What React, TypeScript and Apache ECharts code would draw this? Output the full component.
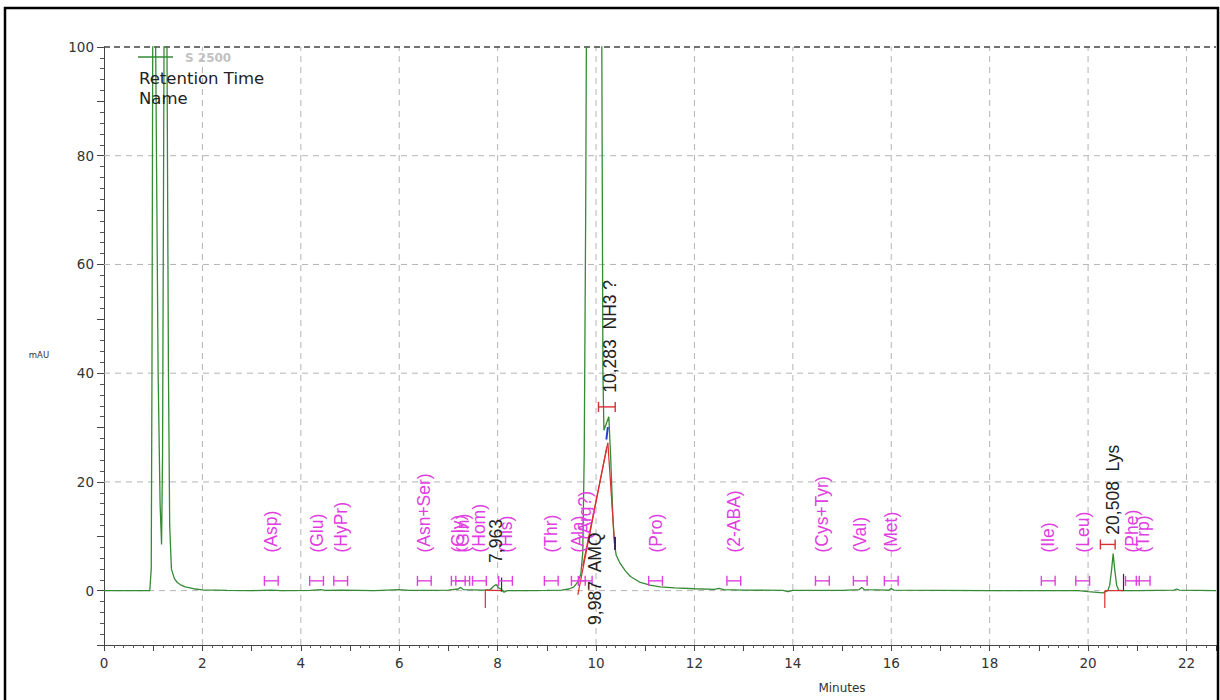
import React, { useEffect, useRef } from 'react';
import * as echarts from 'echarts';

// Chromatogram trace (minutes, mAU)
const traceTime = [
  0, 0.93, 0.96, 0.975, 0.99, 1.02, 1.05, 1.1, 1.14, 1.17, 1.19, 1.22, 1.25, 1.28, 1.31, 1.335, 1.37, 1.43, 1.49, 1.57,
  1.65, 1.82, 2.0, 2.5, 3.0, 3.4, 3.6, 4.2, 4.4, 4.5, 4.85, 5.5, 6.0, 6.2, 6.7, 7.0, 7.2, 7.25, 7.3, 7.7,
  7.85, 7.93, 7.97, 8.02, 8.08, 8.13, 8.2, 8.6, 9.0, 9.3, 9.45, 9.55, 9.63, 9.69, 9.73, 9.76, 9.79, 9.83, 9.9, 9.99,
  10.07, 10.11, 10.14, 10.16, 10.2, 10.26, 10.3, 10.34, 10.37, 10.41, 10.49, 10.6, 10.7, 10.9, 11.1, 11.3, 11.6, 12.0, 12.4, 12.5,
  12.6, 13.0, 13.8, 13.9, 14.0, 15.0, 15.35, 15.4, 15.45, 15.95, 16.0, 16.05, 17.0, 18.0, 19.0, 19.8, 20.0, 20.3, 20.4, 20.44,
  20.48, 20.51, 20.54, 20.58, 20.62, 20.7, 21.0, 21.75, 21.8, 21.85, 22.6,
];
const traceMAU = [
  0, 0, 4, 40, 100, 190, 100, 40, 16, 8.5, 25, 100, 190, 100, 40, 12, 4, 2.2, 1.5, 1.0,
  0.7, 0.35, 0.15, 0.05, 0.0, 0.1, 0.0, 0.05, 0.2, 0.05, 0.1, 0.0, 0.2, 0.05, 0.05, 0.1, 0.3, 0.6, 0.2, 0.1,
  0.2, 0.9, 1.1, 0.5, 0.2, -0.3, 0.0, 0.0, 0.05, 0.1, 0.3, 0.7, 1.6, 3.0, 7, 25, 70, 160, 320, 420,
  300, 120, 40, 29.5, 30.5, 32, 24, 14, 9, 6.5, 5, 3.6, 2.6, 1.5, 1.0, 0.7, 0.5, 0.35, 0.25, 0.4,
  0.2, 0.1, 0.05, -0.2, 0.05, 0.05, 0.2, 0.6, 0.2, 0.1, 0.4, 0.1, 0.05, 0.0, 0.0, 0.0, -0.2, -0.4, 0.0, 1.0,
  4, 6.8, 4, 1.0, 0.1, 0.0, 0.0, 0.1, 0.3, 0.1, 0.0,
];

// Expected components (magenta, rotated) with their window markers
const aaNames = ['(Asp)', '(Glu)', '(HyPr)', '(Asn+Ser)', '(Gly)', '(Gln)', '(Hom)', '(His)', '(Thr)', '(Ala)', '(Arg?)',
  '(Pro)', '(2-ABA)', '(Cys+Tyr)', '(Val)', '(Met)', '(Ile)', '(Leu)', '(Phe)', '(Trp)'];
const aaTimes = [3.40, 4.32, 4.81, 6.51, 7.20, 7.29, 7.63, 8.16, 9.09, 9.64, 9.78,
  11.21, 12.80, 14.60, 15.37, 16.00, 19.19, 19.89, 20.90, 21.12];
const aaLabelBase = [7, 7, 7, 7, 7, 7, 7, 7, 7, 7, 9.4, 7, 7, 7, 7, 7, 7, 7, 7, 7];
const aaMarkY = 1.8;
const aaMarkHalf = 0.14;

// Integrated peaks (black rotated labels)
const peakLabels = ['7,963', '9,987  AMQ', '10,283  NH3 ?', '20,508  Lys'];
const peakTimes = [7.963, 9.987, 10.283, 20.508];
const peakLabelBase = [5.1, -6.3, 36.4, 10.3];

// Red peak-window markers
const redMarkTimes = [10.22, 20.40];
const redMarkY = [33.8, 8.5];
const redMarkHalf = [0.17, 0.15];

// Integration lines [x1, y1, x2, y2]
const redSegments = [
  [7.75, 0.1, 7.75, -3.2],
  [7.75, 0.1, 8.08, 0.0],
  [9.63, -0.8, 10.22, 26.5],
  [9.73, 4.5, 10.24, 27.2],
  [10.24, 27.2, 10.37, 9.5],
  [20.34, 0.0, 20.34, -3.2],
  [20.34, 0.0, 20.72, 0.0],
];
const blackSegments = [
  [8.08, 2.4, 8.08, -0.2],
  [20.72, 3.1, 20.72, 0.0],
];
const blueSegments = [[10.21, 27.8, 10.24, 30.1]];
const purpleSegments = [[10.385, 9.9, 10.385, 7.5]];

// Grid
const gridXValues = [2, 4, 6, 8, 10, 12, 14, 16, 18, 20, 22];
const gridYValues = [0, 20, 40, 60, 80];
const X_MIN = 0;
const X_MAX = 22.6;
const Y_MIN = -10;
const Y_MAX = 100;

const GREEN = '#358a35';
const MAGENTA = '#e03ee0';
const RED = '#d83030';

export default function App() {
  const ref = useRef<HTMLDivElement>(null);

  useEffect(() => {
    const chart = echarts.init(ref.current as HTMLDivElement, null, { renderer: 'svg' });

    const segSeries = (data: number[][], color: string, width: number, z: number, dash?: number[]) => ({
      type: 'custom',
      data,
      z,
      silent: true,
      renderItem: (_p: any, api: any) => {
        const a = api.coord([api.value(0), api.value(1)]);
        const b = api.coord([api.value(2), api.value(3)]);
        return {
          type: 'line',
          shape: { x1: a[0], y1: a[1], x2: b[0], y2: b[1] },
          style: { stroke: color, lineWidth: width, lineDash: dash || null },
        };
      },
    });

    const markSeries = (data: number[][], color: string, z: number) => ({
      type: 'custom',
      data,
      z,
      silent: true,
      renderItem: (_p: any, api: any) => {
        const t = api.value(0);
        const y = api.value(1);
        const hw = api.value(2);
        const a = api.coord([t - hw, y]);
        const b = api.coord([t + hw, y]);
        const h = 5;
        const st = { stroke: color, lineWidth: 1.4 };
        return {
          type: 'group',
          children: [
            { type: 'line', shape: { x1: a[0], y1: a[1], x2: b[0], y2: b[1] }, style: st },
            { type: 'line', shape: { x1: a[0], y1: a[1] - h, x2: a[0], y2: a[1] + h }, style: st },
            { type: 'line', shape: { x1: b[0], y1: b[1] - h, x2: b[0], y2: b[1] + h }, style: st },
          ],
        };
      },
    });

    const textSeries = (names: string[], times: number[], bases: number[], color: string, z: number) => ({
      type: 'custom',
      data: times.map((t, i) => [t, bases[i]]),
      z,
      silent: true,
      renderItem: (params: any, api: any) => {
        const p = api.coord([api.value(0), api.value(1)]);
        return {
          type: 'text',
          x: p[0],
          y: p[1],
          rotation: Math.PI / 2,
          style: {
            text: names[params.dataIndex],
            fill: color,
            fontSize: 17.5,
            fontFamily: 'Liberation Sans',
            align: 'left',
            verticalAlign: 'middle',
          },
        };
      },
    });

    const option: any = {
      animation: false,
      backgroundColor: '#ffffff',
      grid: { left: 104, top: 47, width: 1112, height: 598, outerBoundsMode: 'none' },
      xAxis: {
        type: 'value',
        min: X_MIN,
        max: X_MAX,
        interval: 1,
        axisLine: { show: true, onZero: false, lineStyle: { color: '#444', width: 1 } },
        axisTick: { show: true, length: 6, lineStyle: { color: '#444' } },
        minorTick: { show: true, splitNumber: 5, length: 3, lineStyle: { color: '#555' } },
        axisLabel: {
          margin: 11,
          color: '#333',
          fontSize: 13.5,
          fontFamily: 'DejaVu Sans',
          formatter: (v: number) => (Math.abs(v % 2) < 1e-9 ? String(v) : ''),
        },
        splitLine: { show: false },
        minorSplitLine: { show: false },
      },
      yAxis: {
        type: 'value',
        min: Y_MIN,
        max: Y_MAX,
        interval: 10,
        axisLine: { show: true, onZero: false, lineStyle: { color: '#444', width: 1 } },
        axisTick: { show: true, length: 7, lineStyle: { color: '#444' } },
        minorTick: { show: true, splitNumber: 5, length: 4, lineStyle: { color: '#555' } },
        axisLabel: {
          margin: 10,
          color: '#333',
          fontSize: 13.5,
          fontFamily: 'DejaVu Sans',
          formatter: (v: number) => (Math.abs(v % 20) < 1e-9 ? String(v) : ''),
        },
        splitLine: { show: false },
        minorSplitLine: { show: false },
      },
      graphic: [
        { type: 'rect', silent: true, z: 100, shape: { x: 5, y: 8, width: 1213, height: 702 }, style: { fill: 'none', stroke: '#000', lineWidth: 2.5 } },
        { type: 'line', silent: true, z: 50, shape: { x1: 138, y1: 57, x2: 173, y2: 57 }, style: { stroke: GREEN, lineWidth: 1.3 } },
        { type: 'text', silent: true, z: 50, x: 185, y: 58, style: { text: 'S 2500', fill: '#c2c2c2', fontSize: 12, fontWeight: 'bold', fontFamily: 'DejaVu Sans', verticalAlign: 'middle' } },
        { type: 'text', silent: true, z: 50, x: 139, y: 78, style: { text: 'Retention Time', fill: '#222', fontSize: 16.5, fontFamily: 'DejaVu Sans', verticalAlign: 'middle' } },
        { type: 'text', silent: true, z: 50, x: 139, y: 98, style: { text: 'Name', fill: '#222', fontSize: 16.5, fontFamily: 'DejaVu Sans', verticalAlign: 'middle' } },
        { type: 'text', silent: true, z: 50, x: 39, y: 355, style: { text: 'mAU', fill: '#333', fontSize: 8.5, fontFamily: 'DejaVu Sans', align: 'center', verticalAlign: 'middle' } },
        { type: 'text', silent: true, z: 50, x: 842, y: 688, style: { text: 'Minutes', fill: '#333', fontSize: 12, fontFamily: 'DejaVu Sans', align: 'center', verticalAlign: 'middle' } },
      ],
      series: [
        segSeries(gridXValues.map((x) => [x, Y_MIN, x, Y_MAX]), '#b4b4b4', 1, 1, [6, 5]),
        segSeries(gridYValues.map((y) => [X_MIN, y, X_MAX, y]), '#b4b4b4', 1, 1, [6, 5]),
        segSeries([[X_MIN, Y_MAX, X_MAX, Y_MAX]], '#444', 1.3, 1, [6, 4]),
        {
          type: 'line',
          data: traceTime.map((t, i) => [t, traceMAU[i]]),
          showSymbol: false,
          symbol: 'none',
          clip: true,
          silent: true,
          z: 3,
          lineStyle: { color: GREEN, width: 1.3 },
        },
        segSeries(redSegments, RED, 1.2, 4),
        segSeries(blackSegments, '#333', 1.2, 4),
        segSeries(blueSegments, '#2040d0', 2, 5),
        segSeries(purpleSegments, '#402060', 2, 5),
        markSeries(aaTimes.map((t) => [t, aaMarkY, aaMarkHalf]), MAGENTA, 6),
        markSeries(redMarkTimes.map((t, i) => [t, redMarkY[i], redMarkHalf[i]]), RED, 6),
        textSeries(aaNames, aaTimes, aaLabelBase, MAGENTA, 7),
        textSeries(peakLabels, peakTimes, peakLabelBase, '#222', 8),
      ],
    };

    chart.setOption(option);
    return () => {
      chart.dispose();
    };
  }, []);

  return (
    <div
      ref={ref}
      style={{ position: 'fixed', left: 0, top: 0, width: 1220, height: 700, background: '#fff' }}
    />
  );
}
